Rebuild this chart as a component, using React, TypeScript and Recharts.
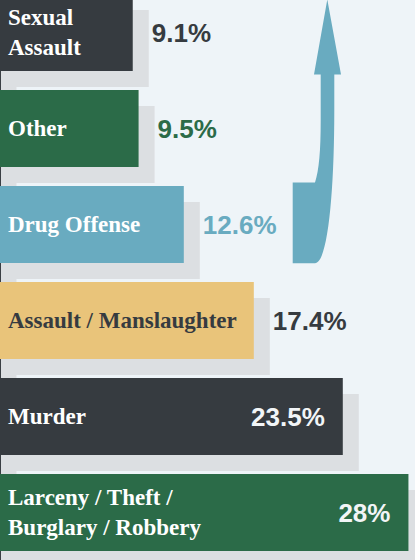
import React from 'react';
import { BarChart, Bar, XAxis, YAxis, LabelList, Customized } from 'recharts';

const categories = [
  'Sexual\nAssault',
  'Other',
  'Drug Offense',
  'Assault / Manslaughter',
  'Murder',
  'Larceny / Theft /\nBurglary / Robbery',
];
const shares = [9.1, 9.5, 12.6, 17.4, 23.5, 28];
const valueLabels = ['9.1%', '9.5%', '12.6%', '17.4%', '23.5%', '28%'];

const BAR_COLORS = ['#363b40', '#2b6b48', '#69abc0', '#e9c47a', '#363b40', '#2b6b48'];
const NAME_COLORS = ['#ffffff', '#ffffff', '#ffffff', '#363b40', '#ffffff', '#ffffff'];
const VALUE_COLORS = ['#363b40', '#2b6b48', '#69abc0', '#363b40', '#f2f5f7', '#f2f5f7'];
const SHADOW = '#dcdfe2';
const BG = '#eef4f8';

const data = categories.map((c, i) => ({ name: c, value: shares[i], label: valueLabels[i] }));

const W = 415;
const H = 576;
const TOP_SHIFT = -16.5;

const ShadowBar = (props: any) => {
  const { x, y, width, height, payload } = props;
  const i = categories.indexOf(payload?.name);
  return (
    <g>
      <rect x={x + 16} y={y + 16} width={width} height={height} fill={SHADOW} />
      <rect x={x} y={y} width={width} height={height} fill={BAR_COLORS[i]} />
    </g>
  );
};

const NameLabel = (props: any) => {
  const { x, y, height, value } = props;
  const i = categories.indexOf(value);
  const lines = String(value).split('\n');
  const cy = y + height / 2;
  const lh = 29.5;
  const first = cy - ((lines.length - 1) * lh) / 2 + 7.5;
  return (
    <text
      fill={NAME_COLORS[i]}
      fontFamily="'Liberation Serif', 'Times New Roman', serif"
      fontWeight="bold"
      fontSize={23}
    >
      {lines.map((l, k) => (
        <tspan key={k} x={x + 8} y={first + k * lh}>
          {l}
        </tspan>
      ))}
    </text>
  );
};

const ValueLabel = (props: any) => {
  const { x, y, width, height, value } = props;
  const i = valueLabels.indexOf(value);
  const inside = shares[i] > 20;
  const cy = y + height / 2 + 9.5;
  return (
    <text
      x={inside ? x + width - 18 : x + width + 19}
      y={cy}
      textAnchor={inside ? 'end' : 'start'}
      fill={VALUE_COLORS[i]}
      fontFamily="'Liberation Sans', Arial, sans-serif"
      fontWeight="bold"
      fontSize={26}
    >
      {value}
    </text>
  );
};

const Arrow = () => {
  const o = -TOP_SHIFT;
  const d = [
    `M 327.3 ${-1 + o}`,
    `L 341 ${74 + o}`,
    `L 334.3 ${74 + o}`,
    `L 334.3 ${110 + o}`,
    `C 334.3 ${190 + o} 328 ${262.7 + o} 315 ${262.7 + o}`,
    `L 292.7 ${262.7 + o}`,
    `L 292.7 ${182 + o}`,
    `L 315 ${182 + o}`,
    `C 319 ${170 + o} 320.7 ${150 + o} 320.7 ${120 + o}`,
    `L 320.7 ${74 + o}`,
    `L 314 ${74 + o}`,
    'Z',
  ].join(' ');
  return <path d={d} fill="#69abc0" />;
};

export default function App() {
  return (
    <div
      style={{
        position: 'absolute',
        left: 0,
        top: 0,
        width: W,
        height: 560,
        overflow: 'hidden',
        background: `linear-gradient(to right, #3a3f44 0px, #3a3f44 1px, ${SHADOW} 1px, ${SHADOW} 16px, #e6eaed 16px, #e6eaed 17px, ${BG} 17px)`,
      }}
    >
      <div style={{ position: 'absolute', left: 0, top: TOP_SHIFT }}>
        <BarChart
          width={W}
          height={H}
          data={data}
          layout="vertical"
          margin={{ top: 0, right: 0, bottom: 0, left: 0 }}
        >
          <XAxis type="number" hide domain={[0, 28.45]} />
          <YAxis type="category" dataKey="name" hide />
          <Bar dataKey="value" barSize={77} shape={<ShadowBar />} isAnimationActive={false}>
            <LabelList dataKey="name" content={<NameLabel />} />
            <LabelList dataKey="label" content={<ValueLabel />} />
          </Bar>
          <Customized component={<Arrow />} />
        </BarChart>
      </div>
    </div>
  );
}
